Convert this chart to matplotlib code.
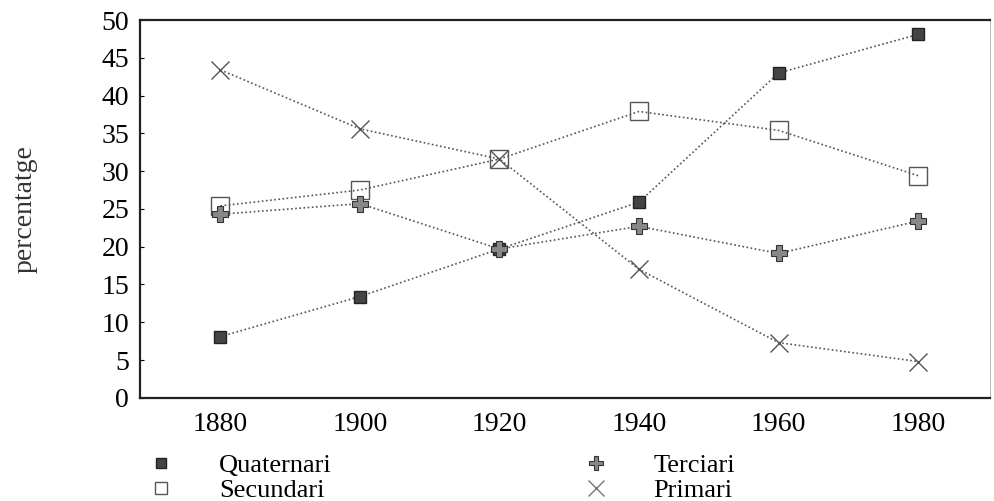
import matplotlib.pyplot as plt
from matplotlib.lines import Line2D

years = [1880, 1900, 1920, 1940, 1960, 1980]
quaternari = [8.1, 13.4, 19.7, 25.9, 43.0, 48.1]
secundari = [25.4, 27.5, 31.6, 37.9, 35.4, 29.4]
terciari = [24.3, 25.7, 19.7, 22.7, 19.1, 23.4]
primari = [43.4, 35.6, 31.6, 17.0, 7.3, 4.8]

plt.rcParams['font.family'] = ['Liberation Serif', 'DejaVu Serif']

fig = plt.figure(figsize=(9.94, 5.01), dpi=100)
ax = fig.add_axes([0.141, 0.206, 0.855, 0.754])

ls = (0, (1, 1.5))
c = '#555555'
ax.plot(years, quaternari, color=c, ls=ls, lw=1.2, marker='s', ms=8,
        mfc='#444444', mec='#222222', mew=1)
ax.plot(years, secundari, color=c, ls=ls, lw=1.2, marker='s', ms=13,
        mfc='none', mec='#555555', mew=1)
ax.plot(years, terciari, color=c, ls=ls, lw=1.2, marker='P', ms=11,
        mfc='#888888', mec='#333333', mew=0.8)
ax.plot(years, primari, color=c, ls=ls, lw=1.2, marker='x', ms=13,
        mec='#555555', mew=1)

ax.set_xlim(1868.5, 1990.3)
ax.set_ylim(0, 50)
ax.set_yticks(range(0, 51, 5))
ax.set_xticks(years)
ax.tick_params(axis='y', labelsize=20, length=3, direction='in', pad=8)
ax.tick_params(axis='x', labelsize=20, length=0, pad=10)
for s in ['left', 'bottom', 'top']:
    ax.spines[s].set_linewidth(1.6)
    ax.spines[s].set_color('#222222')
ax.spines['right'].set_linewidth(0.6)
ax.spines['right'].set_color('#aaaaaa')
ax.set_ylabel('percentatge', fontsize=20, labelpad=46, color='#333333')

handles = [
    Line2D([], [], ls='none', marker='s', ms=7, mfc='#444444', mec='#222222'),
    Line2D([], [], ls='none', marker='s', ms=8, mfc='none', mec='#555555'),
    Line2D([], [], ls='none', marker='P', ms=10, mfc='#888888', mec='#333333', mew=0.8),
    Line2D([], [], ls='none', marker='x', ms=11, mec='#777777'),
]
labels = ['Quaternari', 'Secundari', 'Terciari', 'Primari']
fig.legend(handles, labels, loc='upper left', bbox_to_anchor=(0.146, 0.094),
           ncol=2, frameon=False, fontsize=19, columnspacing=9.4,
           handlelength=1.2, handletextpad=1.6, labelspacing=0.05,
           borderaxespad=0, borderpad=0)

fig.savefig('out.png', dpi=100)
